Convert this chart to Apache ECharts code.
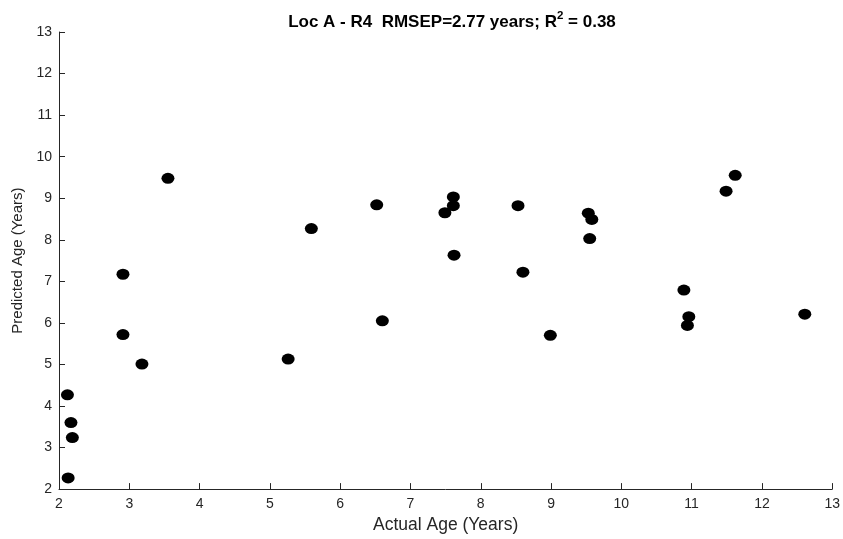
<!DOCTYPE html>
<html>
<head>
<meta charset="utf-8">
<script src="https://cdn.jsdelivr.net/npm/echarts@6/dist/echarts.min.js"></script>
<style>
  html, body { margin: 0; padding: 0; background: #fff; }
  #chart { width: 843px; height: 539px; }
</style>
</head>
<body>
<div id="chart"></div>
<script>
// Actual vs predicted ages for each sample
const actualAge = [
  2.12, 2.17, 2.19, 2.13, 2.91, 2.91, 3.18, 3.55, 5.26, 5.59,
  6.52, 6.60, 7.49, 7.61, 7.61, 7.62, 8.53, 8.60, 8.99, 9.53,
  9.58, 9.55, 10.89, 10.96, 10.94, 11.49, 11.62, 12.61
];
const predictedAge = [
  4.27, 3.60, 3.24, 2.27, 7.17, 5.72, 5.01, 9.48, 5.13, 8.27,
  8.84, 6.05, 8.65, 9.03, 8.82, 7.63, 8.82, 7.22, 5.70, 8.64,
  8.49, 8.03, 6.79, 6.15, 5.94, 9.17, 9.55, 6.21
];
const axisMin = 2;
const axisMax = 13;

const points = actualAge.map((x, i) => [x, predictedAge[i]]);

const font = '"Liberation Sans", Arial, sans-serif';
const ink = '#262626';

const chart = echarts.init(document.getElementById('chart'), null, { renderer: 'canvas' });

const axisCommon = {
  type: 'value',
  min: axisMin,
  max: axisMax,
  interval: 1,
  splitLine: { show: false },
  axisLine: { show: true, onZero: false, lineStyle: { color: ink, width: 1 } },
  axisTick: { show: true, inside: true, length: 6, lineStyle: { color: ink, width: 1 } },
  axisLabel: { color: ink, fontFamily: font, fontSize: 14 },
  nameTextStyle: { color: ink, fontFamily: font, fontSize: 15 }
};

chart.setOption({
  animation: false,
  backgroundColor: '#ffffff',
  title: {
    text: '{t|Loc A - R4  RMSEP=2.77 years; R}{sup|2}{t| = 0.38}',
    left: 447,
    textAlign: 'center',
    top: 5,
    textStyle: {
      rich: {
        t: { fontFamily: font, fontSize: 17, fontWeight: 'bold', color: '#000', verticalAlign: 'bottom', lineHeight: 21 },
        sup: { fontFamily: font, fontSize: 11.5, fontWeight: 'bold', color: '#000', verticalAlign: 'top', lineHeight: 11 }
      }
    }
  },
  grid: { left: 59, right: 8, top: 32, bottom: 41, containLabel: false },
  xAxis: Object.assign({}, axisCommon, {
    name: 'Actual Age (Years)',
    nameLocation: 'middle',
    nameGap: 25,
    nameTextStyle: Object.assign({}, axisCommon.nameTextStyle, { fontSize: 17.5 }),
    axisLabel: Object.assign({}, axisCommon.axisLabel, { margin: 8 })
  }),
  yAxis: Object.assign({}, axisCommon, {
    name: 'Predicted Age (Years)',
    nameLocation: 'middle',
    nameGap: 34,
    axisLabel: Object.assign({}, axisCommon.axisLabel, { margin: 7 })
  }),
  series: [{
    type: 'scatter',
    data: points,
    symbol: 'circle',
    symbolSize: [13, 11],
    itemStyle: { color: '#000', opacity: 1 },
    emphasis: { disabled: true }
  }]
});
</script>
</body>
</html>
